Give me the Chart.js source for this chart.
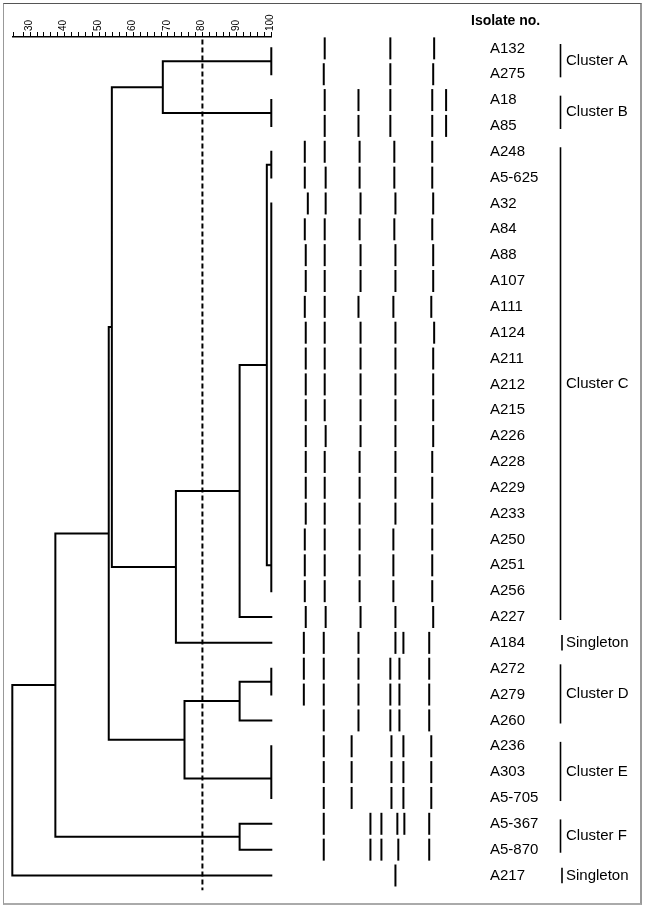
<!DOCTYPE html>
<html><head><meta charset="utf-8">
<script src="https://cdn.jsdelivr.net/npm/chart.js@4/dist/chart.umd.min.js"></script>
<style>
html,body{margin:0;padding:0;background:#fff;}
#wrap{position:relative;width:646px;height:910px;}
#frame{position:absolute;left:3px;top:3px;width:639px;height:902px;box-sizing:border-box;border-top:1px solid #555;border-left:1px solid #999;border-right:2px solid #999;border-bottom:2px solid #aaa;pointer-events:none;}
canvas{display:block;}
</style></head><body>
<div id="wrap"><canvas id="c" width="646" height="910"></canvas><div id="frame"></div></div>
<script>
// ---------- data ----------
const isolates = ['A132','A275','A18','A85','A248','A5-625','A32','A84','A88','A107','A111','A124','A211','A212','A215','A226','A228','A229','A233','A250','A251','A256','A227','A184','A272','A279','A260','A236','A303','A5-705','A5-367','A5-870','A217'];

// band positions per isolate, relative migration (% of lane width)
const bandPositions = [
  [16.9, 58.1, 85.6],
  [16.3, 58.1, 85.0],
  [16.9, 38.1, 58.1, 84.4, 93.1],
  [16.9, 38.1, 58.1, 84.4, 93.1],
  [4.4, 16.9, 38.8, 60.6, 84.4],
  [4.4, 17.5, 38.8, 60.6, 84.4],
  [6.3, 17.5, 39.4, 61.3, 85.0],
  [4.4, 16.9, 38.8, 60.6, 84.4],
  [5.0, 16.9, 39.4, 61.3, 85.0],
  [5.0, 16.9, 39.4, 61.3, 85.0],
  [4.4, 16.9, 38.1, 60.0, 83.8],
  [5.0, 16.9, 39.4, 61.3, 85.6],
  [5.0, 16.9, 39.4, 61.3, 85.0],
  [5.0, 16.9, 39.4, 61.3, 85.0],
  [5.0, 16.9, 39.4, 61.3, 85.0],
  [5.0, 17.5, 39.4, 61.3, 85.0],
  [5.0, 16.9, 38.8, 61.3, 84.4],
  [5.0, 16.9, 38.8, 61.3, 84.4],
  [5.0, 16.9, 38.8, 61.3, 84.4],
  [4.4, 16.9, 38.8, 60.0, 84.4],
  [4.4, 16.9, 38.8, 60.0, 84.4],
  [4.4, 16.9, 38.8, 60.0, 84.4],
  [5.0, 17.5, 39.4, 61.3, 85.0],
  [3.8, 16.3, 38.1, 61.3, 66.3, 82.5],
  [3.8, 16.3, 38.1, 58.1, 63.8, 82.5],
  [3.8, 16.3, 38.1, 58.1, 63.8, 82.5],
  [16.3, 38.1, 58.1, 63.8, 82.5],
  [16.3, 33.8, 58.8, 66.3, 83.8],
  [16.3, 33.8, 58.8, 66.3, 83.8],
  [16.3, 33.8, 58.8, 66.3, 83.8],
  [16.3, 45.6, 52.5, 62.5, 66.9, 82.5],
  [16.3, 45.6, 52.5, 63.1, 82.5],
  [61.3]
];

// dendrogram merges: [node, similarity (%), child 1, child 2]
const merges = [
  ['A', 100, 'A132', 'A275'],
  ['B', 100, 'A18', 'A85'],
  ['AB', 68.5, 'A', 'B'],
  ['C1', 100, 'A248', 'A5-625'],
  ['c2', 100, 'A32', 'A84'],
  ['c3', 100, 'c2', 'A88'],
  ['c4', 100, 'c3', 'A107'],
  ['c5', 100, 'c4', 'A111'],
  ['c6', 100, 'c5', 'A124'],
  ['c7', 100, 'c6', 'A211'],
  ['c8', 100, 'c7', 'A212'],
  ['c9', 100, 'c8', 'A215'],
  ['c10', 100, 'c9', 'A226'],
  ['c11', 100, 'c10', 'A228'],
  ['c12', 100, 'c11', 'A229'],
  ['c13', 100, 'c12', 'A233'],
  ['c14', 100, 'c13', 'A250'],
  ['c15', 100, 'c14', 'A251'],
  ['c16', 100, 'c15', 'A256'],
  ['C2', 98.7, 'C1', 'c16'],
  ['C', 90.8, 'C2', 'A227'],
  ['C184', 72.3, 'C', 'A184'],
  ['ABC', 53.7, 'AB', 'C184'],
  ['D1', 100, 'A272', 'A279'],
  ['D', 90.8, 'D1', 'A260'],
  ['E1', 100, 'A236', 'A303'],
  ['E', 100, 'E1', 'A5-705'],
  ['DE', 74.8, 'D', 'E'],
  ['ABCDE', 52.8, 'ABC', 'DE'],
  ['F', 90.8, 'A5-367', 'A5-870'],
  ['ABCDEF', 37.3, 'ABCDE', 'F'],
  ['root', 24.8, 'ABCDEF', 'A217']
];

const cutoff = 80;
const simMin = 25, simMax = 100, simStep = 2, simLabelStep = 10;

const clusterNames = ['Cluster A','Cluster B','Cluster C','Singleton','Cluster D','Cluster E','Cluster F','Singleton'];
const clusterFirst = ['A132','A18','A248','A184','A272','A236','A5-367','A217'];
const clusterLast  = ['A275','A85','A227','A184','A260','A5-705','A5-870','A217'];

// ---------- layout constants ----------
const FONT = '"Liberation Sans", Arial, Helvetica, sans-serif';
const PLOT_LEFT = 11, AXIS_TOP = 37, PLOT_BOTTOM_PAD = 12.3;
const SIM_AXIS_WIDTH = 258.3;
const LABEL_AXIS_WIDTH = 166;
const LANE_LEFT = 297, LANE_PX_PER_UNIT = 1.6;
const ROW_MIN = -0.44, ROW_MAX = 32.6;

// ---------- build series ----------
const rowOf = {};
isolates.forEach((n, i) => rowOf[n] = i);
const nodeX = {}, nodeY = {};
isolates.forEach((n, i) => { nodeX[n] = 100; nodeY[n] = i; });
const dendroPoints = [];
merges.forEach(([name, sim, a, b]) => {
  dendroPoints.push({x: nodeX[a], y: nodeY[a]}, {x: sim, y: nodeY[a]}, {x: sim, y: nodeY[b]}, {x: nodeX[b], y: nodeY[b]}, {x: null, y: null});
  nodeX[name] = sim;
  nodeY[name] = (nodeY[a] + nodeY[b]) / 2;
});

const bandPoints = [];
bandPositions.forEach((list, i) => list.forEach(p => bandPoints.push({x: p, y: i})));

// ---------- plugins ----------
const simAxisPlugin = {
  id: 'simAxis',
  afterLayout(chart) {
    const s = chart.scales.x;
    s.left = chart.chartArea.left;
    s.right = s.left + SIM_AXIS_WIDTH;
    s.width = SIM_AXIS_WIDTH;
    s.configure();
  }
};

const annotatePlugin = {
  id: 'annotate',
  afterDraw(chart) {
    const {ctx} = chart;
    const y = chart.scales.y;
    ctx.save();
    ctx.fillStyle = '#000';
    ctx.strokeStyle = '#000';
    ctx.textBaseline = 'middle';
    ctx.textAlign = 'left';
    ctx.font = 'bold 14px ' + FONT;
    ctx.fillText('Isolate no.', 471, 21);
    ctx.font = '15px ' + FONT;
    ctx.lineWidth = 1.6;
    clusterNames.forEach((name, k) => {
      const f = rowOf[clusterFirst[k]], l = rowOf[clusterLast[k]];
      const single = f === l;
      const y0 = y.getPixelForValue(f - (single ? 0.3 : 0.17));
      const y1 = y.getPixelForValue(l + (single ? 0.3 : 0.12));
      const bx = single ? 562 : 560.5;
      ctx.beginPath(); ctx.moveTo(bx, y0); ctx.lineTo(bx, y1); ctx.stroke();
      ctx.fillText(name, 566, (y0 + y1) / 2);
    });
    ctx.restore();
  }
};

// ---------- chart ----------
new Chart(document.getElementById('c'), {
  type: 'scatter',
  data: {
    datasets: [
      {
        label: 'dendrogram', data: dendroPoints, showLine: true, spanGaps: false,
        borderColor: '#000', borderWidth: 2, pointRadius: 0, pointHoverRadius: 0,
        tension: 0, borderJoinStyle: 'miter', borderCapStyle: 'square', clip: false,
        xAxisID: 'x', yAxisID: 'y'
      },
      {
        label: 'cut-off', data: [{x: cutoff, y: -0.34}, {x: cutoff, y: ROW_MAX - 0.03}], showLine: true,
        borderColor: '#000', borderWidth: 2, borderDash: [5, 3], pointRadius: 0, pointHoverRadius: 0,
        clip: false, xAxisID: 'x', yAxisID: 'y'
      },
      {
        label: 'bands', data: bandPoints, showLine: false,
        pointStyle: 'line', rotation: 90, pointRadius: 11, pointHoverRadius: 11,
        borderColor: '#000', backgroundColor: '#000', pointBorderWidth: 2, borderWidth: 2,
        clip: false, xAxisID: 'xb', yAxisID: 'y'
      }
    ]
  },
  options: {
    responsive: false, animation: false, devicePixelRatio: 1,
    layout: {padding: {left: PLOT_LEFT, top: 0, right: 0, bottom: PLOT_BOTTOM_PAD}},
    plugins: {legend: {display: false}, tooltip: {enabled: false}},
    events: [],
    scales: {
      x: {
        type: 'linear', position: 'top', min: simMin, max: simMax,
        afterFit(s) { s.height = AXIS_TOP; },
        grid: {drawOnChartArea: false, tickLength: 5, color: '#000', lineWidth: 1},
        border: {color: '#000', width: 1.5},
        ticks: {
          stepSize: simStep, autoSkip: false, minRotation: 90, maxRotation: 90, padding: 1,
          labelOffset: 11,
          color: '#000', font: {family: FONT, size: 10},
          callback: v => (v % simLabelStep === 0 && v >= 30) ? String(v) : ''
        }
      },
      xb: {
        type: 'linear', display: false,
        min: -(LANE_LEFT - PLOT_LEFT) / LANE_PX_PER_UNIT,
        max: (646 - LABEL_AXIS_WIDTH - LANE_LEFT) / LANE_PX_PER_UNIT
      },
      y: {
        type: 'linear', position: 'right', reverse: true, min: ROW_MIN, max: ROW_MAX,
        afterFit(s) { s.width = LABEL_AXIS_WIDTH; },
        afterBuildTicks(s) { s.ticks = isolates.map((_, i) => ({value: i})); },
        grid: {display: false, drawTicks: false},
        border: {display: false},
        ticks: {
          autoSkip: false, padding: 10, crossAlign: 'near', color: '#000',
          font: {family: FONT, size: 15},
          callback: v => isolates[v] !== undefined ? isolates[v] : ''
        }
      }
    }
  },
  plugins: [simAxisPlugin, annotatePlugin]
});
</script>
</body></html>
